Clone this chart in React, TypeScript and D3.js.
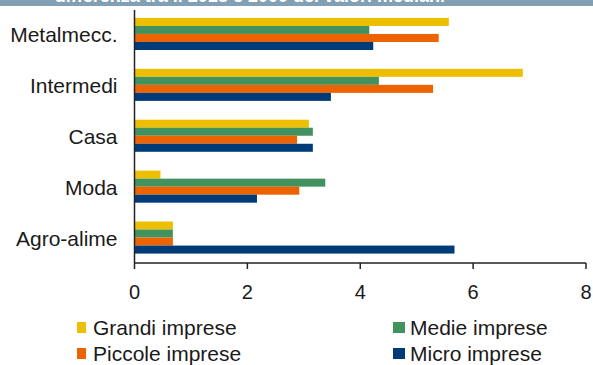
import React from "react";
import * as d3 from "d3";

const categories = ["Metalmecc.", "Intermedi", "Casa", "Moda", "Agro-alime"];
const seriesNames = ["Grandi imprese", "Medie imprese", "Piccole imprese", "Micro imprese"];
const grandi = [5.57, 6.88, 3.09, 0.46, 0.68];
const medie = [4.16, 4.33, 3.16, 3.38, 0.68];
const piccole = [5.39, 5.29, 2.88, 2.92, 0.68];
const micro = [4.23, 3.48, 3.16, 2.17, 5.67];
const xTicks = [0, 2, 4, 6, 8];
const colors = ["#EDBF00", "#41925E", "#EC6300", "#003B79"];
const title = "differenza tra il 2018 e 2000 dei valori mediani";

export default function App() {
  const W = 593, H = 365;
  const series = [grandi, medie, piccole, micro];
  const x = d3.scaleLinear().domain([0, 8]).range([134.5, 586]);
  const y = d3.scaleBand<string>().domain(categories).range([8.5, 263]).paddingInner(0.37).paddingOuter(0.185);
  const sub = d3.scaleBand<number>().domain([0, 1, 2, 3]).range([0, y.bandwidth()]);
  const font = "Liberation Sans, Arial, sans-serif";
  const textCol = "#1a1a1a";
  const legendPos = [
    { x: 77, y: 327.5, w: 9, tx: 93 },
    { x: 393, y: 327.5, w: 12, tx: 410 },
    { x: 77, y: 353.5, w: 9, tx: 93 },
    { x: 393, y: 353.5, w: 12, tx: 410 },
  ];
  return (
    <svg width={W} height={H} style={{ position: "absolute", left: 0, top: 0, background: "#fff" }}>
      <rect x={0} y={0} width={W} height={6} fill="#82A0B4" />
      <text x={445} y={1.5} textAnchor="end" fill="#fff" fontFamily={font} fontWeight="bold" fontSize={18}>
        {title}
      </text>
      {categories.map((c, i) => (
        <g key={c}>
          {series.map((s, j) => (
            <rect
              key={j}
              x={x(0)}
              y={(y(c) as number) + (sub(j) as number)}
              width={x(s[i]) - x(0)}
              height={sub.bandwidth()}
              fill={colors[j]}
            />
          ))}
          <text
            x={117.5}
            y={(y(c) as number) + y.bandwidth() / 2 + 1}
            textAnchor="end"
            dominantBaseline="central"
            fontFamily={font}
            fontSize={21}
            fill={textCol}
          >
            {c}
          </text>
        </g>
      ))}
      <line x1={x(0)} x2={x(0)} y1={10} y2={263} stroke="#222" strokeWidth={1.5} />
      <line x1={x(0)} x2={x(8)} y1={263} y2={263} stroke="#222" strokeWidth={1.5} />
      {xTicks.map((t) => (
        <g key={t}>
          <line x1={x(t)} x2={x(t)} y1={263} y2={269} stroke="#222" strokeWidth={1.5} />
          <text x={x(t)} y={292} textAnchor="middle" dominantBaseline="central" fontFamily={font} fontSize={20} fill={textCol}>
            {t}
          </text>
        </g>
      ))}
      {seriesNames.map((n, j) => (
        <g key={n}>
          <rect x={legendPos[j].x} y={legendPos[j].y - 5.5} width={legendPos[j].w} height={11} fill={colors[j]} />
          <text x={legendPos[j].tx} y={legendPos[j].y} dominantBaseline="central" fontFamily={font} fontSize={21} fill={textCol}>
            {n}
          </text>
        </g>
      ))}
    </svg>
  );
}
